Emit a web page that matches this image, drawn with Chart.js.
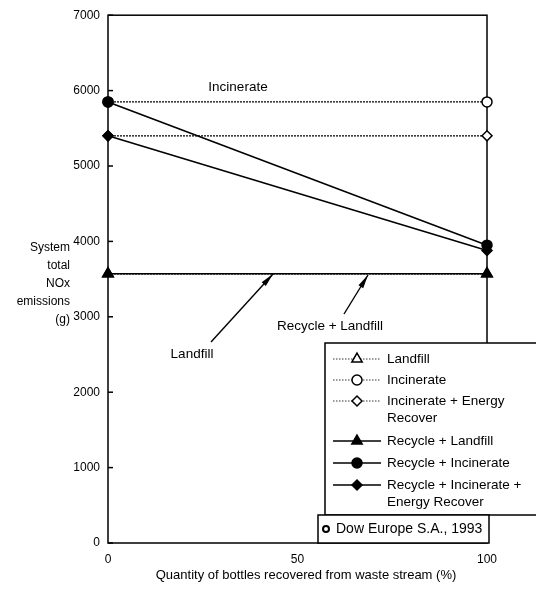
<!DOCTYPE html>
<html>
<head>
<meta charset="utf-8">
<style>
html, body { margin: 0; padding: 0; background: #fff; }
</style>
</head>
<body>
<canvas id="chart" width="536" height="592"></canvas>
<script src="https://cdn.jsdelivr.net/npm/chart.js"></script>
<script>
// quantity of bottles recovered (%)
var xs = [0, 100];
// system total NOx emissions (g)
var landfill      = [3570, 3570];
var incinerate    = [5850, 5850];
var incEnergy     = [5400, 5400];
var recLandfill   = [3570, 3570];
var recIncinerate = [5850, 3950];
var recIncEnergy  = [5400, 3880];

var names = ["Landfill", "Incinerate", ["Incinerate + Energy", "Recover"],
             "Recycle + Landfill", "Recycle + Incinerate", ["Recycle + Incinerate +", "Energy Recover"]];
var yTitle = ["System", "total", "NOx", "emissions", "(g)"];
var xTitle = "Quantity of bottles recovered from waste stream (%)";
var source = "Dow Europe S.A., 1993";

var FONT = "'Liberation Sans', Arial, sans-serif";

function pts(ys) {
    var out = [];
    for (var i = 0; i < xs.length; i++) out.push({x: xs[i], y: ys[i]});
    return out;
}

function ds(label, ys, style, filled, dotted) {
    return {
        label: label,
        data: pts(ys),
        borderColor: "#000",
        borderWidth: dotted ? 1.2 : 1.6,
        borderDash: dotted ? [2, 1] : [],
        pointStyle: style,
        pointRadius: style == "triangle" ? 6 : 5,
        pointBackgroundColor: filled ? "#000" : "#fff",
        pointBorderColor: "#000",
        pointBorderWidth: 1.5,
        order: filled ? 0 : 1,
        clip: false,
        fill: false,
        tension: 0
    };
}

var datasets = [
    ds(names[0], landfill, "triangle", false, true),
    ds(names[1], incinerate, "circle", false, true),
    ds(names[2], incEnergy, "rectRot", false, true),
    ds(names[3], recLandfill, "triangle", true, false),
    ds(names[4], recIncinerate, "circle", true, false),
    ds(names[5], recIncEnergy, "rectRot", true, false)
];

function arrow(ctx, x1, y1, x2, y2) {
    ctx.beginPath();
    ctx.moveTo(x1, y1);
    ctx.lineTo(x2, y2);
    ctx.stroke();
    var a = Math.atan2(y2 - y1, x2 - x1);
    ctx.beginPath();
    ctx.moveTo(x2, y2);
    ctx.lineTo(x2 - 14 * Math.cos(a - 0.2), y2 - 14 * Math.sin(a - 0.2));
    ctx.lineTo(x2 - 14 * Math.cos(a + 0.2), y2 - 14 * Math.sin(a + 0.2));
    ctx.closePath();
    ctx.fill();
}

var framePlugin = {
    id: "frame",
    beforeDatasetsDraw: function (chart) {
        var ctx = chart.ctx, a = chart.chartArea, y = chart.scales.y;
        ctx.save();
        ctx.strokeStyle = "#000";
        ctx.lineWidth = 1.5;
        ctx.strokeRect(a.left, a.top, a.right - a.left, a.bottom - a.top);
        // small inward ticks on the y axis
        y.ticks.forEach(function (t) {
            var py = y.getPixelForValue(t.value);
            ctx.beginPath();
            ctx.moveTo(a.left, py);
            ctx.lineTo(a.left + 5, py);
            ctx.stroke();
        });
        ctx.restore();
    },
    afterDraw: function (chart) {
        var ctx = chart.ctx;
        ctx.save();
        ctx.fillStyle = "#000";
        ctx.strokeStyle = "#000";
        ctx.font = "12px " + FONT;

        // y axis title
        ctx.textAlign = "right";
        ctx.textBaseline = "middle";
        yTitle.forEach(function (s, i) { ctx.fillText(s, 70, 248 + i * 18); });

        // x axis title
        ctx.textAlign = "center";
        ctx.font = "13px " + FONT;
        ctx.fillText(xTitle, 306, 575);

        // annotations
        ctx.font = "13.5px " + FONT;
        ctx.fillText("Incinerate", 238, 87);
        ctx.fillText("Landfill", 192, 354);
        ctx.fillText("Recycle + Landfill", 330, 326);
        ctx.lineWidth = 1.4;
        arrow(ctx, 211, 342, 273, 274);
        arrow(ctx, 344, 314, 368, 275);

        // legend box
        ctx.fillStyle = "#fff";
        ctx.fillRect(325, 343, 220, 172);
        ctx.lineWidth = 1.5;
        ctx.strokeRect(325, 343, 220, 172);
        var rows = [359, 380, 401, 441, 463, 485];
        ctx.textAlign = "left";
        chart.data.datasets.forEach(function (d, i) {
            var ry = rows[i];
            ctx.save();
            ctx.strokeStyle = "#000";
            ctx.lineWidth = d.borderDash.length ? 0.8 : 1.3;
            ctx.setLineDash(d.borderDash.length ? [1.5, 1.5] : []);
            ctx.beginPath();
            ctx.moveTo(333, ry);
            ctx.lineTo(381, ry);
            ctx.stroke();
            ctx.restore();
            ctx.save();
            ctx.fillStyle = d.pointBackgroundColor;
            ctx.strokeStyle = "#000";
            ctx.lineWidth = 1.5;
            Chart.helpers.drawPoint(ctx, {pointStyle: d.pointStyle, radius: d.pointRadius, borderWidth: 1.5}, 357, ry);
            ctx.restore();
            ctx.fillStyle = "#000";
            ctx.font = "13.5px " + FONT;
            var lines = Array.isArray(d.label) ? d.label : [d.label];
            lines.forEach(function (s, k) { ctx.fillText(s, 387, ry + k * 17); });
        });

        // source box
        ctx.fillStyle = "#fff";
        ctx.fillRect(318, 515, 171, 28);
        ctx.strokeRect(318, 515, 171, 28);
        ctx.lineWidth = 2;
        ctx.beginPath();
        ctx.arc(326, 529, 3, 0, Math.PI * 2);
        ctx.stroke();
        ctx.fillStyle = "#000";
        ctx.font = "14px " + FONT;
        ctx.fillText(source, 336, 529);
        ctx.restore();
    }
};

new Chart(document.getElementById("chart"), {
    type: "line",
    data: { datasets: datasets },
    options: {
        responsive: false,
        animation: false,
        layout: { padding: { top: 13, right: 49, left: 0, bottom: 0 } },
        plugins: { legend: { display: false }, tooltip: { enabled: false } },
        scales: {
            x: {
                type: "linear",
                min: 0, max: 100,
                grid: { display: false, drawTicks: false },
                border: { display: false },
                ticks: { stepSize: 50, color: "#000", padding: 9, font: { family: FONT, size: 12 },
                         callback: function (v) { return String(v); } },
                afterFit: function (s) { s.height = 49; }
            },
            y: {
                min: 0, max: 7000,
                grid: { display: false, drawTicks: false },
                border: { display: false },
                ticks: { stepSize: 1000, color: "#000", padding: 8, font: { family: FONT, size: 12 },
                         callback: function (v) { return String(v); } },
                afterFit: function (s) { s.width = 108; }
            }
        }
    },
    plugins: [framePlugin]
});
</script>
</body>
</html>
